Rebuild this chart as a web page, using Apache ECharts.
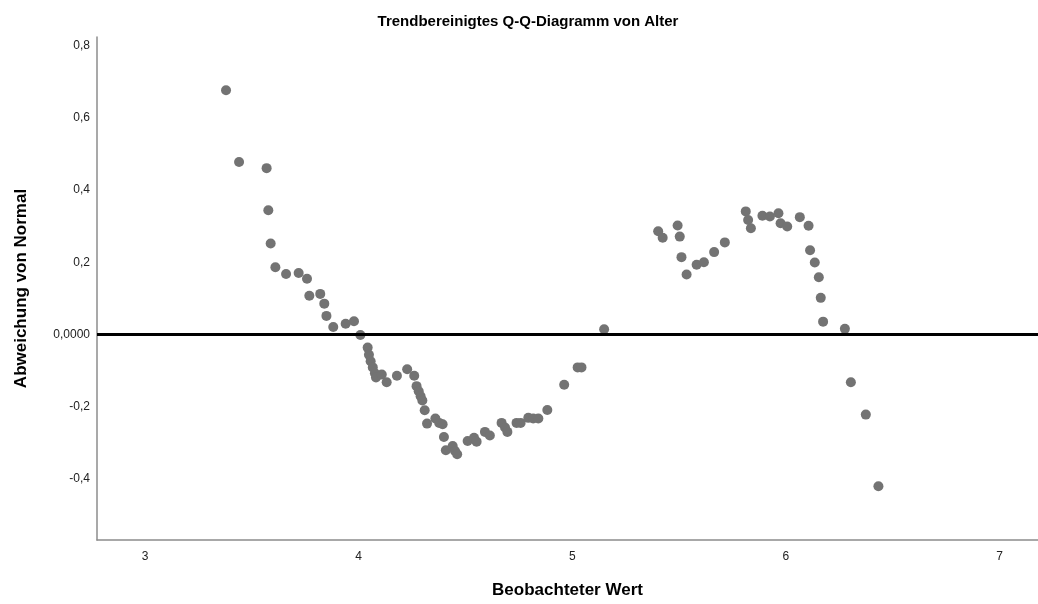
<!DOCTYPE html>
<html>
<head>
<meta charset="utf-8">
<title>Trendbereinigtes Q-Q-Diagramm von Alter</title>
<script src="https://cdn.jsdelivr.net/npm/echarts@6/dist/echarts.min.js"></script>
<style>
  html, body { margin: 0; padding: 0; background: #fff; }
  #chart { width: 1038px; height: 604px; }
</style>
</head>
<body>
<div id="chart"></div>
<script>
// beobachteter Wert (x) und Abweichung von Normal (y)
const observed = [
  3.379, 3.44, 3.569, 3.577, 3.588, 3.61, 3.66, 3.719, 3.758, 3.769,
  3.82, 3.839, 3.849, 3.881, 3.939, 3.978, 4.008,
  4.042, 4.048, 4.056, 4.066, 4.076, 4.081, 4.108, 4.131, 4.179, 4.227,
  4.26, 4.271, 4.281, 4.29, 4.298, 4.309, 4.32, 4.359, 4.377, 4.393,
  4.399, 4.408, 4.44, 4.451, 4.461, 4.51, 4.54, 4.552, 4.591, 4.614,
  4.669, 4.685, 4.696, 4.739, 4.758, 4.794, 4.817, 4.841, 4.883,
  4.962, 5.025, 5.043, 5.149,
  5.402, 5.423, 5.493, 5.503, 5.511, 5.535, 5.582, 5.616, 5.664, 5.714,
  5.812, 5.823, 5.836, 5.89, 5.925, 5.965, 5.975, 6.006, 6.065, 6.106,
  6.113, 6.135, 6.154, 6.163, 6.174, 6.276, 6.304, 6.374, 6.433
];
const deviation = [
  0.677, 0.478, 0.461, 0.344, 0.252, 0.186, 0.167, 0.170, 0.154, 0.107,
  0.112, 0.085, 0.051, 0.020, 0.029, 0.036, -0.002,
  -0.037, -0.057, -0.075, -0.092, -0.108, -0.120, -0.112, -0.133, -0.115, -0.097,
  -0.115, -0.144, -0.158, -0.172, -0.184, -0.211, -0.248, -0.234, -0.246, -0.250,
  -0.285, -0.322, -0.310, -0.324, -0.333, -0.296, -0.287, -0.298, -0.271, -0.281,
  -0.246, -0.259, -0.271, -0.246, -0.246, -0.232, -0.234, -0.234, -0.210,
  -0.140, -0.092, -0.092, 0.014,
  0.286, 0.268, 0.302, 0.271, 0.214, 0.166, 0.193, 0.200, 0.228, 0.255,
  0.341, 0.317, 0.294, 0.329, 0.327, 0.336, 0.308, 0.299, 0.325, 0.301,
  0.233, 0.199, 0.158, 0.101, 0.035, 0.015, -0.133, -0.223, -0.422
];
const xTicks = [3, 4, 5, 6, 7];
const yTicks = [-0.4, -0.2, 0, 0.2, 0.4, 0.6, 0.8];

const points = observed.map((v, i) => [v, deviation[i]]);

const myChart = echarts.init(document.getElementById("chart"));
const option = {
  animation: false,
  textStyle: { fontFamily: "Liberation Sans, Arial, sans-serif" },
  title: {
    text: "Trendbereinigtes Q-Q-Diagramm von Alter",
    left: 523,
    textAlign: "center",
    top: 9,
    textStyle: { fontSize: 15, fontWeight: "bold", color: "#000" }
  },
  grid: { left: 97, right: 0, top: 37, bottom: 61 },
  xAxis: {
    type: "value",
    min: 2.775,
    max: 7.18,
    name: "Beobachteter Wert",
    nameLocation: "middle",
    nameGap: 42,
    nameTextStyle: { fontSize: 17, fontWeight: "bold", color: "#000" },
    // Achse unten halten, nicht auf y = 0
    axisLine: { show: true, onZero: false, lineStyle: { color: "#8c8c8c", width: 1.5 } },
    axisTick: { show: false },
    splitLine: { show: false },
    axisLabel: {
      customValues: xTicks,
      color: "#222",
      fontSize: 12,
      margin: 11
    }
  },
  yAxis: {
    type: "value",
    min: -0.571,
    max: 0.825,
    name: "Abweichung von Normal",
    nameLocation: "middle",
    nameGap: 67,
    nameTextStyle: { fontSize: 17, fontWeight: "bold", color: "#000" },
    axisLine: { show: true, onZero: false, lineStyle: { color: "#8c8c8c", width: 1.5 } },
    axisTick: { show: false },
    splitLine: { show: false },
    axisLabel: {
      customValues: yTicks,
      color: "#222",
      fontSize: 12,
      margin: 7,
      formatter: (v) => (Math.abs(v) < 1e-9 ? "0,0000" : v.toFixed(1).replace(".", ","))
    }
  },
  series: [
    {
      type: "scatter",
      data: points,
      symbolSize: 10,
      itemStyle: { color: "#737373", opacity: 1 },
      markLine: {
        silent: true,
        symbol: "none",
        label: { show: false },
        lineStyle: { color: "#000", width: 3, type: "solid" },
        data: [{ yAxis: 0 }]
      }
    }
  ]
};
myChart.setOption(option);
</script>
</body>
</html>
